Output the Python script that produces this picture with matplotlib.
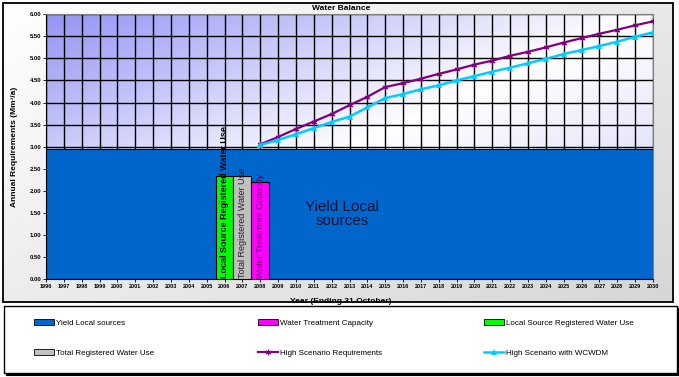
import numpy as np
import matplotlib
matplotlib.use("Agg")
import matplotlib.pyplot as plt
from matplotlib.patches import Rectangle, Patch
from matplotlib.lines import Line2D

plt.rcParams['font.family'] = ['Liberation Sans', 'DejaVu Sans']

# ---------------- data ----------------
years = list(range(1996, 2031))
yield_years = [1996, 2030]
yield_values = [2.94, 2.94]

bar_years = [2006, 2007, 2008]
bar_values = [2.34, 2.34, 2.19]
bar_names = ["Local Source Registered Water Use", "Total Registered Water Use",
             "Water Treatment Capacity"]

line_years = list(range(2008, 2031))
high_req = [3.05, 3.22, 3.40, 3.57, 3.74, 3.94, 4.13, 4.35, 4.44, 4.54, 4.65, 4.75,
            4.86, 4.95, 5.06, 5.15, 5.25, 5.36, 5.46, 5.56, 5.65, 5.75, 5.84]
high_wcwdm = [3.04, 3.15, 3.28, 3.42, 3.56, 3.68, 3.89, 4.10, 4.19, 4.30, 4.39, 4.50,
              4.60, 4.70, 4.79, 4.89, 4.99, 5.10, 5.19, 5.28, 5.38, 5.49, 5.59]

y_ticks = [0, 0.5, 1, 1.5, 2, 2.5, 3, 3.5, 4, 4.5, 5, 5.5, 6]

# ---------------- styles ----------------
c_yield = '#0066cc'
c_green = '#00ff00'
c_gray = '#c0c0c0'
c_mag = '#ff00ff'
c_purple = '#800080'
c_cyan = '#00ccff'
star = (6, 2, 0)

W, H = 679, 377
fig = plt.figure(figsize=(W / 100, H / 100), dpi=100)

def fx(px):
    return px / W

def fy(py):
    return 1 - py / H

# background / frames
bg = fig.add_axes([0, 0, 1, 1], zorder=-10)
bg.set_xlim(0, 1)
bg.set_ylim(0, 1)
bg.axis('off')
gx, gy = np.meshgrid(np.linspace(0, 1, 200), np.linspace(0, 1, 120))
tt = np.clip(0.55 * gx + 0.45 * gy, 0, 1)
grey = 1 - 0.16 * tt
bgimg = np.dstack([grey, grey, grey])
bg.imshow(bgimg, extent=(fx(3), fx(673), fy(302), fy(3)), aspect='auto',
          origin='upper', zorder=0)
bg.add_patch(Rectangle((fx(3), fy(302)), fx(673) - fx(3), fy(3) - fy(302),
                       fill=False, ec='black', lw=1.3, zorder=2))
# legend box with thin shadow
bg.add_patch(Rectangle((fx(5.5), fy(374.5)), fx(677) - fx(4), fy(306) - fy(373),
                       fc='black', ec='black', lw=0.8, zorder=1))
bg.add_patch(Rectangle((fx(4), fy(373)), fx(677) - fx(4), fy(306) - fy(373),
                       fc='white', ec='black', lw=1.0, zorder=2))

# main axes
ax = fig.add_axes([fx(46), fy(279), fx(653) - fx(46), fy(14.3) - fy(279)])
ax.set_xlim(1996, 2030)
ax.set_ylim(0, 6)

# plot area gradient
u, v = np.meshgrid(np.linspace(0, 1, 300), np.linspace(0, 1, 200))
t = (u + v) / 2
c0 = np.array([0.58, 0.58, 0.96])
c1 = np.array([1.0, 1.0, 1.0])
c2 = np.array([0.80, 0.80, 0.97])
m = t <= 0.5
s = (t / 0.5)[..., None]
s2 = ((t - 0.5) / 0.5)[..., None]
img = np.where(m[..., None], c0 + (c1 - c0) * s, c1 + (c2 - c1) * s2)
ax.imshow(img, extent=(1996, 2030, 0, 6), aspect='auto', origin='upper',
          zorder=0, interpolation='bilinear')

ax.set_axisbelow(True)
ax.set_xticks(years)
ax.set_yticks(y_ticks)
ax.grid(True, color='black', lw=1.0)

# area
ax.fill_between(yield_years, 0, yield_values, color=c_yield, ec='black', lw=0.8,
                zorder=2)

# bars
bar_cols = [c_green, c_gray, c_mag]
ax.bar(bar_years, bar_values, width=1.0, color=bar_cols, edgecolor='black',
       lw=0.8, zorder=3)
txt_cols = ['black', '#222222', '#660066']
txt_w = ['bold', 'normal', 'normal']
for xv, name, tc, tw in zip(bar_years, bar_names, txt_cols, txt_w):
    ax.text(xv, 0.03, name, rotation=90, ha='center', va='bottom', fontsize=6.5,
            color=tc, fontweight=tw, zorder=4)

ax.text(2012.6, 1.47, 'Yield Local\nsources', ha='center', va='center',
        fontsize=11, color='#111133', linespacing=0.95, zorder=4)

# lines
ax.plot(line_years, high_req, color=c_purple, lw=1.6, marker=star, ms=4,
        mew=0.8, zorder=5)
ax.plot(line_years, high_wcwdm, color=c_cyan, lw=1.8, marker='^', ms=4.5,
        mew=0, zorder=5)

# spines & ticks
for sp in ['top', 'right']:
    ax.spines[sp].set_color('#808080')
for sp in ['left', 'bottom']:
    ax.spines[sp].set_color('black')
ax.tick_params(axis='both', length=2, width=0.6, pad=1.5, labelsize=4.2)
ax.set_xticklabels([str(y) for y in years], fontweight='bold', fontsize=4.0)
ax.set_yticklabels(['%.2f' % y for y in y_ticks], fontweight='bold', fontsize=4.2)

ax.set_ylabel('Annual Requirements (Mm³/a)', fontsize=6, fontweight='bold')
ax.yaxis.set_label_coords(-(46 - 18) / 607, 0.5)
ax.set_xlabel('Year (Ending 31 October)', fontsize=6, fontweight='bold')
ax.xaxis.set_label_coords((341 - 46) / 607, -(298 - 279) / 265)

fig.text(fx(341), fy(8.3), 'Water Balance', ha='center', va='center',
         fontsize=6, fontweight='bold')

# legend (three columns)
h_yield = Patch(facecolor=c_yield, edgecolor='black', lw=0.6)
h_mag = Patch(facecolor=c_mag, edgecolor='black', lw=0.6)
h_green = Patch(facecolor=c_green, edgecolor='black', lw=0.6)
h_gray = Patch(facecolor=c_gray, edgecolor='black', lw=0.6)
h_req = Line2D([], [], color=c_purple, lw=1.6, marker=star, ms=4, mew=0.8)
h_wc = Line2D([], [], color=c_cyan, lw=1.8, marker='^', ms=4.5, mew=0)

cols = [
    (34, [h_yield, h_gray], ['Yield Local sources', 'Total Registered Water Use']),
    (258, [h_mag, h_req], ['Water Treatment Capacity', 'High Scenario Requirements']),
    (484, [h_green, h_wc], ['Local Source Registered Water Use', 'High Scenario with WCWDM']),
]
for xp, hs, ls in cols:
    fig.legend(hs, ls, loc='center left', bbox_to_anchor=(fx(xp), fy(338)),
               frameon=False, fontsize=5.8, handlelength=2.5, handletextpad=0.25,
               labelspacing=2.8, borderpad=0, borderaxespad=0, handleheight=0.7)

fig.savefig('out.png', dpi=100)
